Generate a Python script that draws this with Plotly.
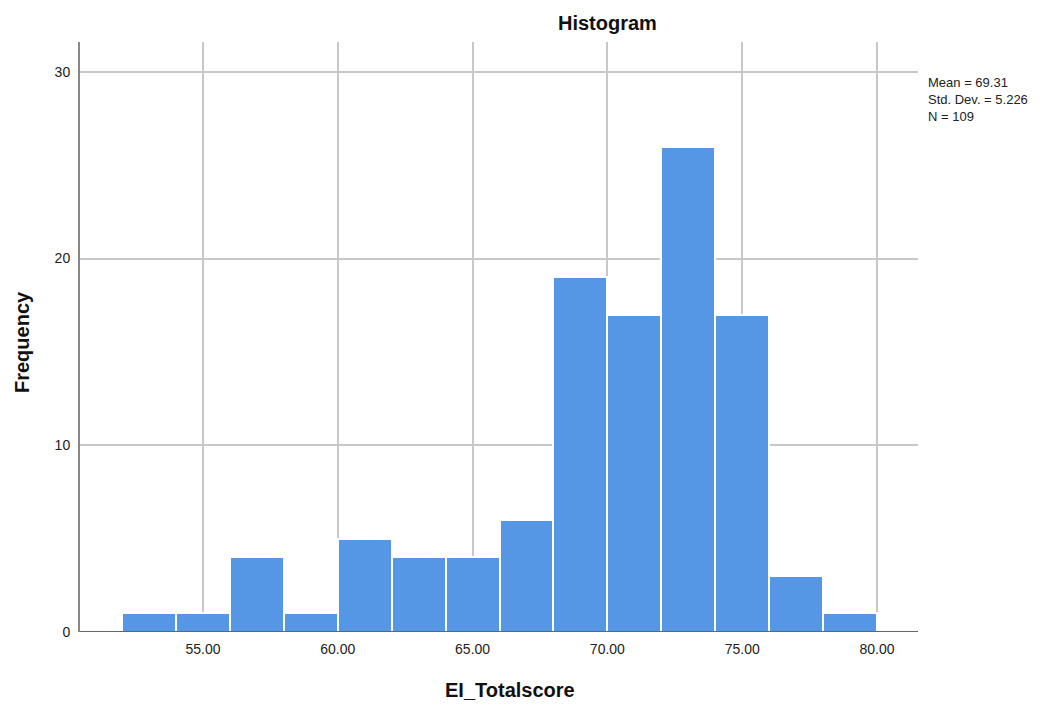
import plotly.graph_objects as go

bin_starts = [52, 54, 56, 58, 60, 62, 64, 66, 68, 70, 72, 74, 76, 78]
bin_width = 2
counts = [1, 1, 4, 1, 5, 4, 4, 6, 19, 17, 26, 17, 3, 1]
x_ticks = [55, 60, 65, 70, 75, 80]
x_tick_labels = ["55.00", "60.00", "65.00", "70.00", "75.00", "80.00"]
y_ticks = [0, 10, 20, 30]
stats_text = "Mean = 69.31<br>Std. Dev. = 5.226<br>N = 109"

centers = [s + bin_width / 2 for s in bin_starts]

# page has an 8px body margin, so the figure starts at (8, 8)
OFF = 8
W, H = 1055 - OFF, 706 - OFF
L, R, T, B = 80 - OFF, 137, 42 - OFF, 74

fig = go.Figure()
fig.add_trace(go.Bar(
    x=centers, y=counts, width=[bin_width] * len(centers),
    marker=dict(color="#5596e5", line=dict(color="#ffffff", width=2)),
    showlegend=False,
))

FONT = "Liberation Sans, Arial, sans-serif"
fig.update_layout(
    width=W, height=H,
    margin=dict(l=L, r=R, t=T, b=B, autoexpand=False),
    paper_bgcolor="white", plot_bgcolor="white",
    font=dict(family=FONT, size=14, color="#222222"),
    bargap=0,
    xaxis=dict(
        range=[50.44, 81.52], tickvals=x_ticks, ticktext=x_tick_labels,
        showgrid=True, gridcolor="#c8c8c8", gridwidth=2,
        zeroline=False, showline=False, ticks="", ticklen=0,
        ticklabelstandoff=7,
        tickfont=dict(size=14, color="#222222"), automargin=False,
    ),
    yaxis=dict(
        range=[0, 31.6], tickvals=y_ticks,
        showgrid=True, gridcolor="#c8c8c8", gridwidth=2,
        zeroline=False, showline=True, linecolor="#888888", linewidth=2,
        ticks="", ticklabelstandoff=5,
        tickfont=dict(size=14, color="#222222"), automargin=False,
    ),
)

# baseline axis at y=0 (SPSS style)
fig.add_shape(type="line", xref="paper", yref="y", x0=0, x1=1, y0=0, y1=0,
              line=dict(color="#666666", width=2))

def px_x(p):
    return (p - OFF - L) / (W - L - R)

def px_y(p):
    return (H - B - (p - OFF)) / (H - T - B)

fig.add_annotation(text="<b>Histogram</b>", xref="paper", yref="paper",
                   x=px_x(607), y=px_y(23), showarrow=False,
                   font=dict(size=20, color="#111111"), xanchor="center", yanchor="middle")

fig.add_annotation(text="<b>EI_Totalscore</b>", xref="paper", yref="paper",
                   x=px_x(510), y=px_y(690), showarrow=False,
                   font=dict(size=20, color="#111111"), xanchor="center", yanchor="middle")

fig.add_annotation(text="<b>Frequency</b>", xref="paper", yref="paper",
                   x=px_x(22), y=px_y(342), showarrow=False, textangle=-90,
                   font=dict(size=20, color="#111111"), xanchor="center", yanchor="middle")

fig.add_annotation(text=stats_text, xref="paper", yref="paper",
                   x=px_x(926), y=px_y(73), showarrow=False, align="left",
                   xanchor="left", yanchor="top",
                   font=dict(size=13, color="#222222"))

fig.write_html("out.html")
